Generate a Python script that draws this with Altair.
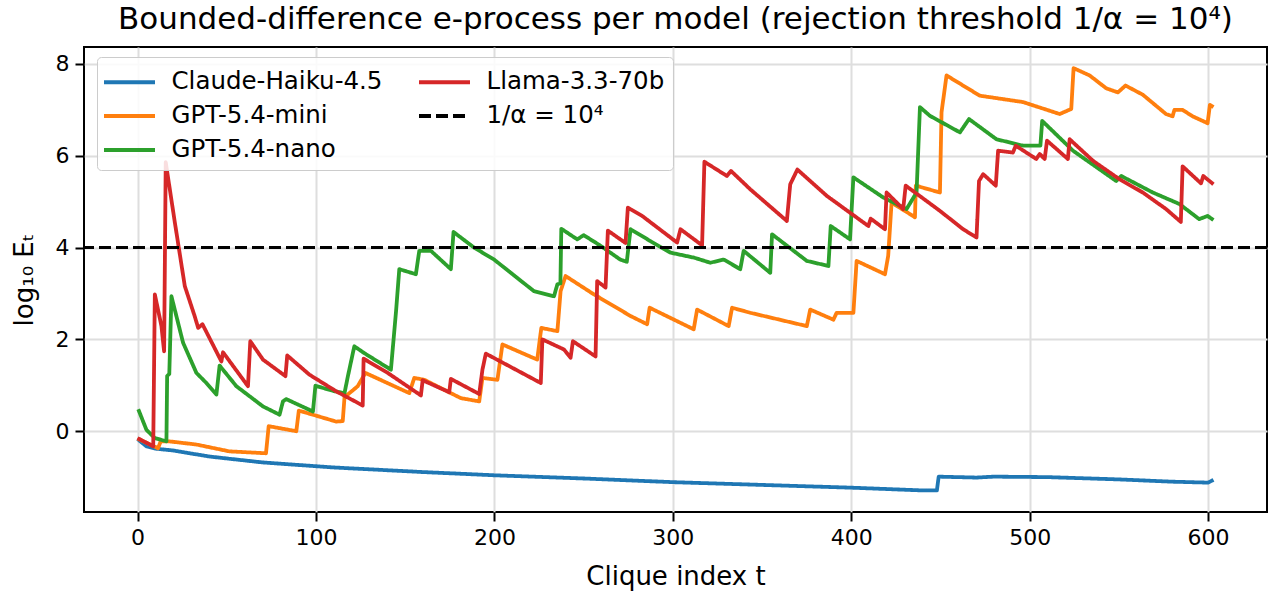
import altair as alt
import pandas as pd

# ---- data ----
claude_t = [0, 5, 10, 20, 40, 70, 110, 160, 200, 250, 300, 350, 400, 440, 448, 449, 470, 480, 510, 550, 580, 600, 603]
claude_v = [-0.17, -0.33, -0.38, -0.42, -0.55, -0.68, -0.79, -0.89, -0.96, -1.03, -1.11, -1.17, -1.23, -1.29, -1.29,
            -0.99, -1.01, -0.99, -1.00, -1.05, -1.10, -1.12, -1.06]

mini_t = [0, 11.5, 13, 17.5, 33, 51.6, 72, 73.5, 89, 90.4, 111.3, 115, 116, 123.4, 127.7, 152.3, 155.1, 160.7, 181.2,
          191.5, 193.3, 201.7, 204.5, 224, 226.3, 235.3, 237.1, 239.9, 255.8, 276.3, 285.6, 287, 311.7, 313.6, 331.3,
          333.2, 343.4, 375.1, 377, 390, 391.8, 401.2, 403, 418.9, 420.7, 422.6, 432.9, 435.7, 436.2, 449.7, 450.6,
          453.4, 472, 496.3, 516.8, 523.3, 524.6, 533.6, 542.9, 549.4, 553.7, 563.4, 576.4, 580.1, 581.1, 585.7, 591.3,
          599.7, 601, 603]
mini_v = [-0.16, -0.37, -0.22, -0.22, -0.29, -0.44, -0.48, 0.11, 0.0, 0.45, 0.21, 0.22, 0.74, 0.98, 1.27, 0.83, 1.16,
          1.12, 0.72, 0.65, 1.16, 1.12, 1.89, 1.56, 2.25, 2.18, 3.05, 3.38, 2.98, 2.51, 2.33, 2.69, 2.22, 2.65, 2.29,
          2.69, 2.58, 2.29, 2.65, 2.43, 2.58, 2.58, 3.71, 3.42, 3.82, 4.98, 4.73, 4.66, 5.35, 5.20, 6.95, 7.75, 7.31,
          7.17, 6.91, 7.02, 7.91, 7.75, 7.47, 7.38, 7.53, 7.33, 6.91, 6.86, 7.00, 7.00, 6.86, 6.71, 7.11, 7.06]

nano_t = [0.4, 5, 9.7, 16.2, 16.6, 17.8, 19, 25.5, 33, 38.6, 44.2, 46, 55.4, 70.3, 79.6, 81.5, 83.3, 98.3, 99.7, 110.4,
          116, 117.8, 121.5, 127.1, 142, 144.9, 146.7, 156, 157.9, 164.4, 175.6, 177.1, 188.6, 199.8, 222.2, 233.4,
          235.3, 237, 237.5, 246.4, 250.1, 259.5, 270.5, 274.2, 276.3, 287.5, 298.7, 312, 321, 328.5, 337.8, 339.7,
          354.6, 355.6, 375.1, 387.2, 388.5, 399.3, 401.2, 418, 431, 436.6, 438.5, 444.1, 460.9, 466, 481.4, 496.3,
          506, 507, 524.3, 548.5, 551.3, 569, 583.9, 595, 599.7, 603]
nano_v = [0.48, 0.03, -0.15, -0.22, 1.2, 1.25, 2.94, 1.93, 1.27, 1.05, 0.80, 1.43, 0.98, 0.54, 0.36, 0.65, 0.70, 0.43,
          0.99, 0.87, 0.83, 1.18, 1.85, 1.70, 1.34, 2.62, 3.53, 3.42, 3.93, 3.93, 3.53, 4.34, 4.0, 3.74, 3.05, 2.94,
          3.2, 3.22, 4.41, 4.18, 4.27, 4.04, 3.74, 3.69, 4.40, 4.14, 3.89, 3.78, 3.67, 3.74, 3.53, 3.93, 3.45, 4.29,
          3.71, 3.60, 4.47, 4.18, 5.53, 5.09, 4.84, 5.20, 7.06, 6.87, 6.51, 6.80, 6.36, 6.22, 6.22, 6.76, 6.11, 5.45,
          5.56, 5.20, 4.95, 4.62, 4.69, 4.60]

llama_t = [0, 8.8, 9.7, 13.4, 14.9, 15.8, 20.9, 26.5, 32, 34, 36.4, 47, 47.9, 61.9, 63.2, 70.3, 82.9, 83.9, 96.4,
           111.3, 126.2, 126.7, 140.2, 158.8, 159.8, 174.7, 175.6, 191.5, 193.3, 195.2, 226, 226.9, 239, 242.7, 244,
           256.7, 257.6, 262.3, 263.6, 273.5, 274.8, 282.8, 302.4, 304.3, 316.4, 317.7, 330.3, 332.6, 343.4, 363.9,
           365.8, 369.8, 386.2, 399.3, 409.6, 410.9, 418.9, 419.8, 429.1, 430.5, 449.7, 462.7, 470.2, 471.6, 473.9,
           481, 482.3, 490.6, 492.2, 503.7, 505.6, 508.4, 509.7, 521.4, 522.4, 535.5, 550.3, 563.4, 576.4, 584.7,
           585.7, 596, 597.3, 603]
llama_v = [-0.15, -0.33, 2.98, 2.29, 1.74, 5.86, 4.55, 3.16, 2.51, 2.25, 2.33, 1.52, 1.72, 0.98, 1.96, 1.56, 1.2,
           1.65, 1.23, 0.87, 0.56, 1.58, 1.27, 0.78, 1.11, 0.85, 1.14, 0.81, 1.34, 1.69, 1.05, 2.0, 1.78, 1.60, 1.96,
           1.63, 3.27, 3.13, 4.37, 4.10, 4.87, 4.69, 4.11, 4.40, 4.05, 5.87, 5.56, 5.67, 5.27, 4.58, 5.38, 5.70, 5.13,
           4.76, 4.47, 4.63, 4.40, 5.20, 4.84, 5.35, 4.80, 4.40, 4.22, 5.45, 5.60, 5.35, 6.11, 6.07, 6.22, 5.93, 6.04,
           5.93, 6.33, 5.93, 6.36, 5.89, 5.49, 5.20, 4.84, 4.56, 5.77, 5.40, 5.56, 5.38]

threshold = 4.0  # log10(1/alpha)

series_names = ["Claude-Haiku-4.5", "GPT-5.4-mini", "GPT-5.4-nano", "Llama-3.3-70b"]
thr_name = "1/α = 10⁴"
legend_order = ["Claude-Haiku-4.5", "GPT-5.4-mini", "GPT-5.4-nano", "Llama-3.3-70b", thr_name]
legend_colors = ["#1f77b4", "#ff7f0e", "#2ca02c", "#d62728", "#000000"]
legend_dashes = [[1, 0], [1, 0], [1, 0], [1, 0], [12, 5]]
x_ticks = [0, 100, 200, 300, 400, 500, 600]
y_ticks = [0, 2, 4, 6, 8]

rows = []
for name, ts, vs in zip(series_names,
                        [claude_t, mini_t, nano_t, llama_t],
                        [claude_v, mini_v, nano_v, llama_v]):
    for i, (t, v) in enumerate(zip(ts, vs)):
        rows.append({"series": name, "t": t, "v": v, "i": i})
df = pd.DataFrame(rows)

FONT = "DejaVu Sans"

x_enc = alt.X("t:Q", scale=alt.Scale(domain=[-30, 633], nice=False, zero=False),
              axis=alt.Axis(values=x_ticks, title="Clique index t", format="d"))
y_enc = alt.Y("v:Q", scale=alt.Scale(domain=[-1.76, 8.37], nice=False, zero=False),
              axis=alt.Axis(values=y_ticks, title="log₁₀ Eₜ", format="d"))

legend = alt.Legend(title=None, orient="none", legendX=13, legendY=10, columns=2,
                    columnPadding=28, rowPadding=5, padding=8,
                    strokeColor="#cccccc", fillColor="rgba(255,255,255,0.85)", cornerRadius=4,
                    symbolType="M-1.2,0H2.2", symbolSize=900, symbolStrokeWidth=4,
                    labelFontSize=24.5, labelFont=FONT, labelOffset=32.5, labelLimit=0,
                    labelColor="black")

lines = alt.Chart(df).mark_line(strokeWidth=3.8, strokeJoin="round", strokeCap="butt").encode(
    x=x_enc,
    y=y_enc,
    color=alt.Color("series:N", scale=alt.Scale(domain=legend_order, range=legend_colors), legend=legend),
    strokeDash=alt.StrokeDash("series:N", scale=alt.Scale(domain=legend_order, range=legend_dashes), legend=legend),
    order="i:Q",
)

rule = alt.Chart(pd.DataFrame({"y": [threshold]})).mark_rule(strokeWidth=3).encode(
    y=alt.Y("y:Q"),
    color=alt.datum(thr_name),
    strokeDash=alt.datum(thr_name),
)

chart = alt.layer(lines, rule).properties(
    width=1183, height=465,
    autosize=alt.AutoSizeParams(type="none"),
    padding={"left": 84, "top": 47, "right": 5, "bottom": 80},
    title=alt.Title("Bounded-difference e-process per model (rejection threshold 1/α = 10⁴)",
                    fontSize=31, font=FONT, fontWeight="normal", color="black", offset=11,
                    anchor="middle"),
).configure_view(
    stroke="black", strokeWidth=2
).configure_axis(
    domain=False, labelFont=FONT, titleFont=FONT, labelFontSize=22, titleFontSize=26,
    titleFontWeight="normal", labelColor="black", titleColor="black",
    tickColor="black", tickSize=9, tickWidth=2, labelPadding=6,
    grid=True, gridColor="#dedede", gridWidth=2,
).configure_axisX(
    titlePadding=15
).configure_axisY(
    titlePadding=18
)

chart.save("out.html", embed_options={"renderer": "svg", "actions": False})
